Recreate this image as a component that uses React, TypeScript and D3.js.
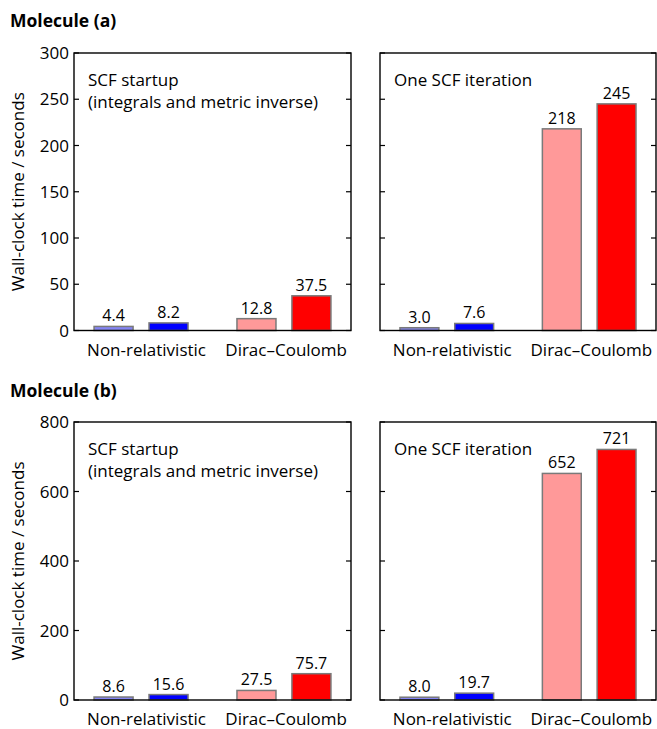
import React from "react";
import * as d3 from "d3";

const categories = ["Non-relativistic", "Dirac–Coulomb"];
const barKeys = ["nr-df", "nr-full", "dc-df", "dc-full"];
const barPositions = [1, 2, 3.6, 4.6];
const groupCenters = [1.6, 4.14];
const barColors = ["#8585f5", "#0000ff", "#ff9999", "#ff0000"];

const molATitle = "Molecule (a)";
const molBTitle = "Molecule (b)";
const startupLines = ["SCF startup", "(integrals and metric inverse)"];
const iterationLines = ["One SCF iteration"];

const molAStartup = [4.4, 8.2, 12.8, 37.5];
const molAIteration = [3.0, 7.6, 218, 245];
const molBStartup = [8.6, 15.6, 27.5, 75.7];
const molBIteration = [8.0, 19.7, 652, 721];

const molAStartupLabels = ["4.4", "8.2", "12.8", "37.5"];
const molAIterationLabels = ["3.0", "7.6", "218", "245"];
const molBStartupLabels = ["8.6", "15.6", "27.5", "75.7"];
const molBIterationLabels = ["8.0", "19.7", "652", "721"];

const molATicks = [0, 50, 100, 150, 200, 250, 300];
const molBTicks = [0, 200, 400, 600, 800];
const yLabel = "Wall-clock time / seconds";

const FONT = "'Open Sans', 'Noto Sans', sans-serif";

type PanelProps = {
  x0: number;
  x1: number;
  y0: number;
  y1: number;
  yMax: number;
  ticks: number[];
  values: number[];
  labels: string[];
  text: string[];
  showTickLabels: boolean;
};

function Panel({ x0, x1, y0, y1, yMax, ticks, values, labels, text, showTickLabels }: PanelProps) {
  const x = d3.scaleLinear().domain([0.28, 5.32]).range([x0, x1]);
  const y = d3.scaleLinear().domain([0, yMax]).range([y1, y0]);
  const bw = x(1.71) - x(1);
  return (
    <g>
      {values.map((v, i) => (
        <g key={barKeys[i]}>
          <rect
            x={x(barPositions[i]) - bw / 2}
            y={y(v)}
            width={bw}
            height={y(0) - y(v)}
            fill={barColors[i]}
            stroke="#7a7a7a"
            strokeWidth={1.5}
          />
          <text
            x={x(barPositions[i])}
            y={y(v) - 5}
            textAnchor="middle"
            fontSize={16}
            fontFamily={FONT}
            fill="#000"
          >
            {labels[i]}
          </text>
        </g>
      ))}
      <rect x={x0} y={y0} width={x1 - x0} height={y1 - y0} fill="none" stroke="#000" strokeWidth={1.4} />
      {ticks.map((t) => (
        <g key={t}>
          <line x1={x0} x2={x0 + 5} y1={y(t)} y2={y(t)} stroke="#000" strokeWidth={1.2} />
          <line x1={x1} x2={x1 - 5} y1={y(t)} y2={y(t)} stroke="#000" strokeWidth={1.2} />
          {showTickLabels && (
            <text
              x={x0 - 5}
              y={y(t)}
              dy="0.36em"
              textAnchor="end"
              fontSize={17}
              fontFamily={FONT}
              fill="#000"
            >
              {t}
            </text>
          )}
        </g>
      ))}
      {text.map((s, i) => (
        <text key={s} x={x0 + 14} y={y0 + 33 + i * 22} fontSize={17} fontFamily={FONT} fill="#000">
          {s}
        </text>
      ))}
      {categories.map((c, i) => (
        <text
          key={c}
          x={x(groupCenters[i])}
          y={y1 + 25}
          textAnchor="middle"
          fontSize={17}
          fontFamily={FONT}
          fill="#000"
        >
          {c}
        </text>
      ))}
    </g>
  );
}

export default function App() {
  const L = [74, 351];
  const R = [380, 656];
  const A = [53, 330.5];
  const B = [422, 700];
  return (
    <svg width={657} height={729} style={{ position: "absolute", left: 0, top: 0 }}>
      <rect width={657} height={729} fill="#fff" />
      <text x={10} y={27} fontSize={17.5} fontWeight="bold" fontFamily={FONT}>
        {molATitle}
      </text>
      <text x={10} y={397} fontSize={17.5} fontWeight="bold" fontFamily={FONT}>
        {molBTitle}
      </text>
      <text
        transform={`translate(24,${(A[0] + A[1]) / 2}) rotate(-90)`}
        textAnchor="middle"
        fontSize={17}
        fontFamily={FONT}
      >
        {yLabel}
      </text>
      <text
        transform={`translate(24,${(B[0] + B[1]) / 2}) rotate(-90)`}
        textAnchor="middle"
        fontSize={17}
        fontFamily={FONT}
      >
        {yLabel}
      </text>
      <Panel x0={L[0]} x1={L[1]} y0={A[0]} y1={A[1]} yMax={300} ticks={molATicks} values={molAStartup} labels={molAStartupLabels} text={startupLines} showTickLabels={true} />
      <Panel x0={R[0]} x1={R[1]} y0={A[0]} y1={A[1]} yMax={300} ticks={molATicks} values={molAIteration} labels={molAIterationLabels} text={iterationLines} showTickLabels={false} />
      <Panel x0={L[0]} x1={L[1]} y0={B[0]} y1={B[1]} yMax={800} ticks={molBTicks} values={molBStartup} labels={molBStartupLabels} text={startupLines} showTickLabels={true} />
      <Panel x0={R[0]} x1={R[1]} y0={B[0]} y1={B[1]} yMax={800} ticks={molBTicks} values={molBIteration} labels={molBIterationLabels} text={iterationLines} showTickLabels={false} />
    </svg>
  );
}
